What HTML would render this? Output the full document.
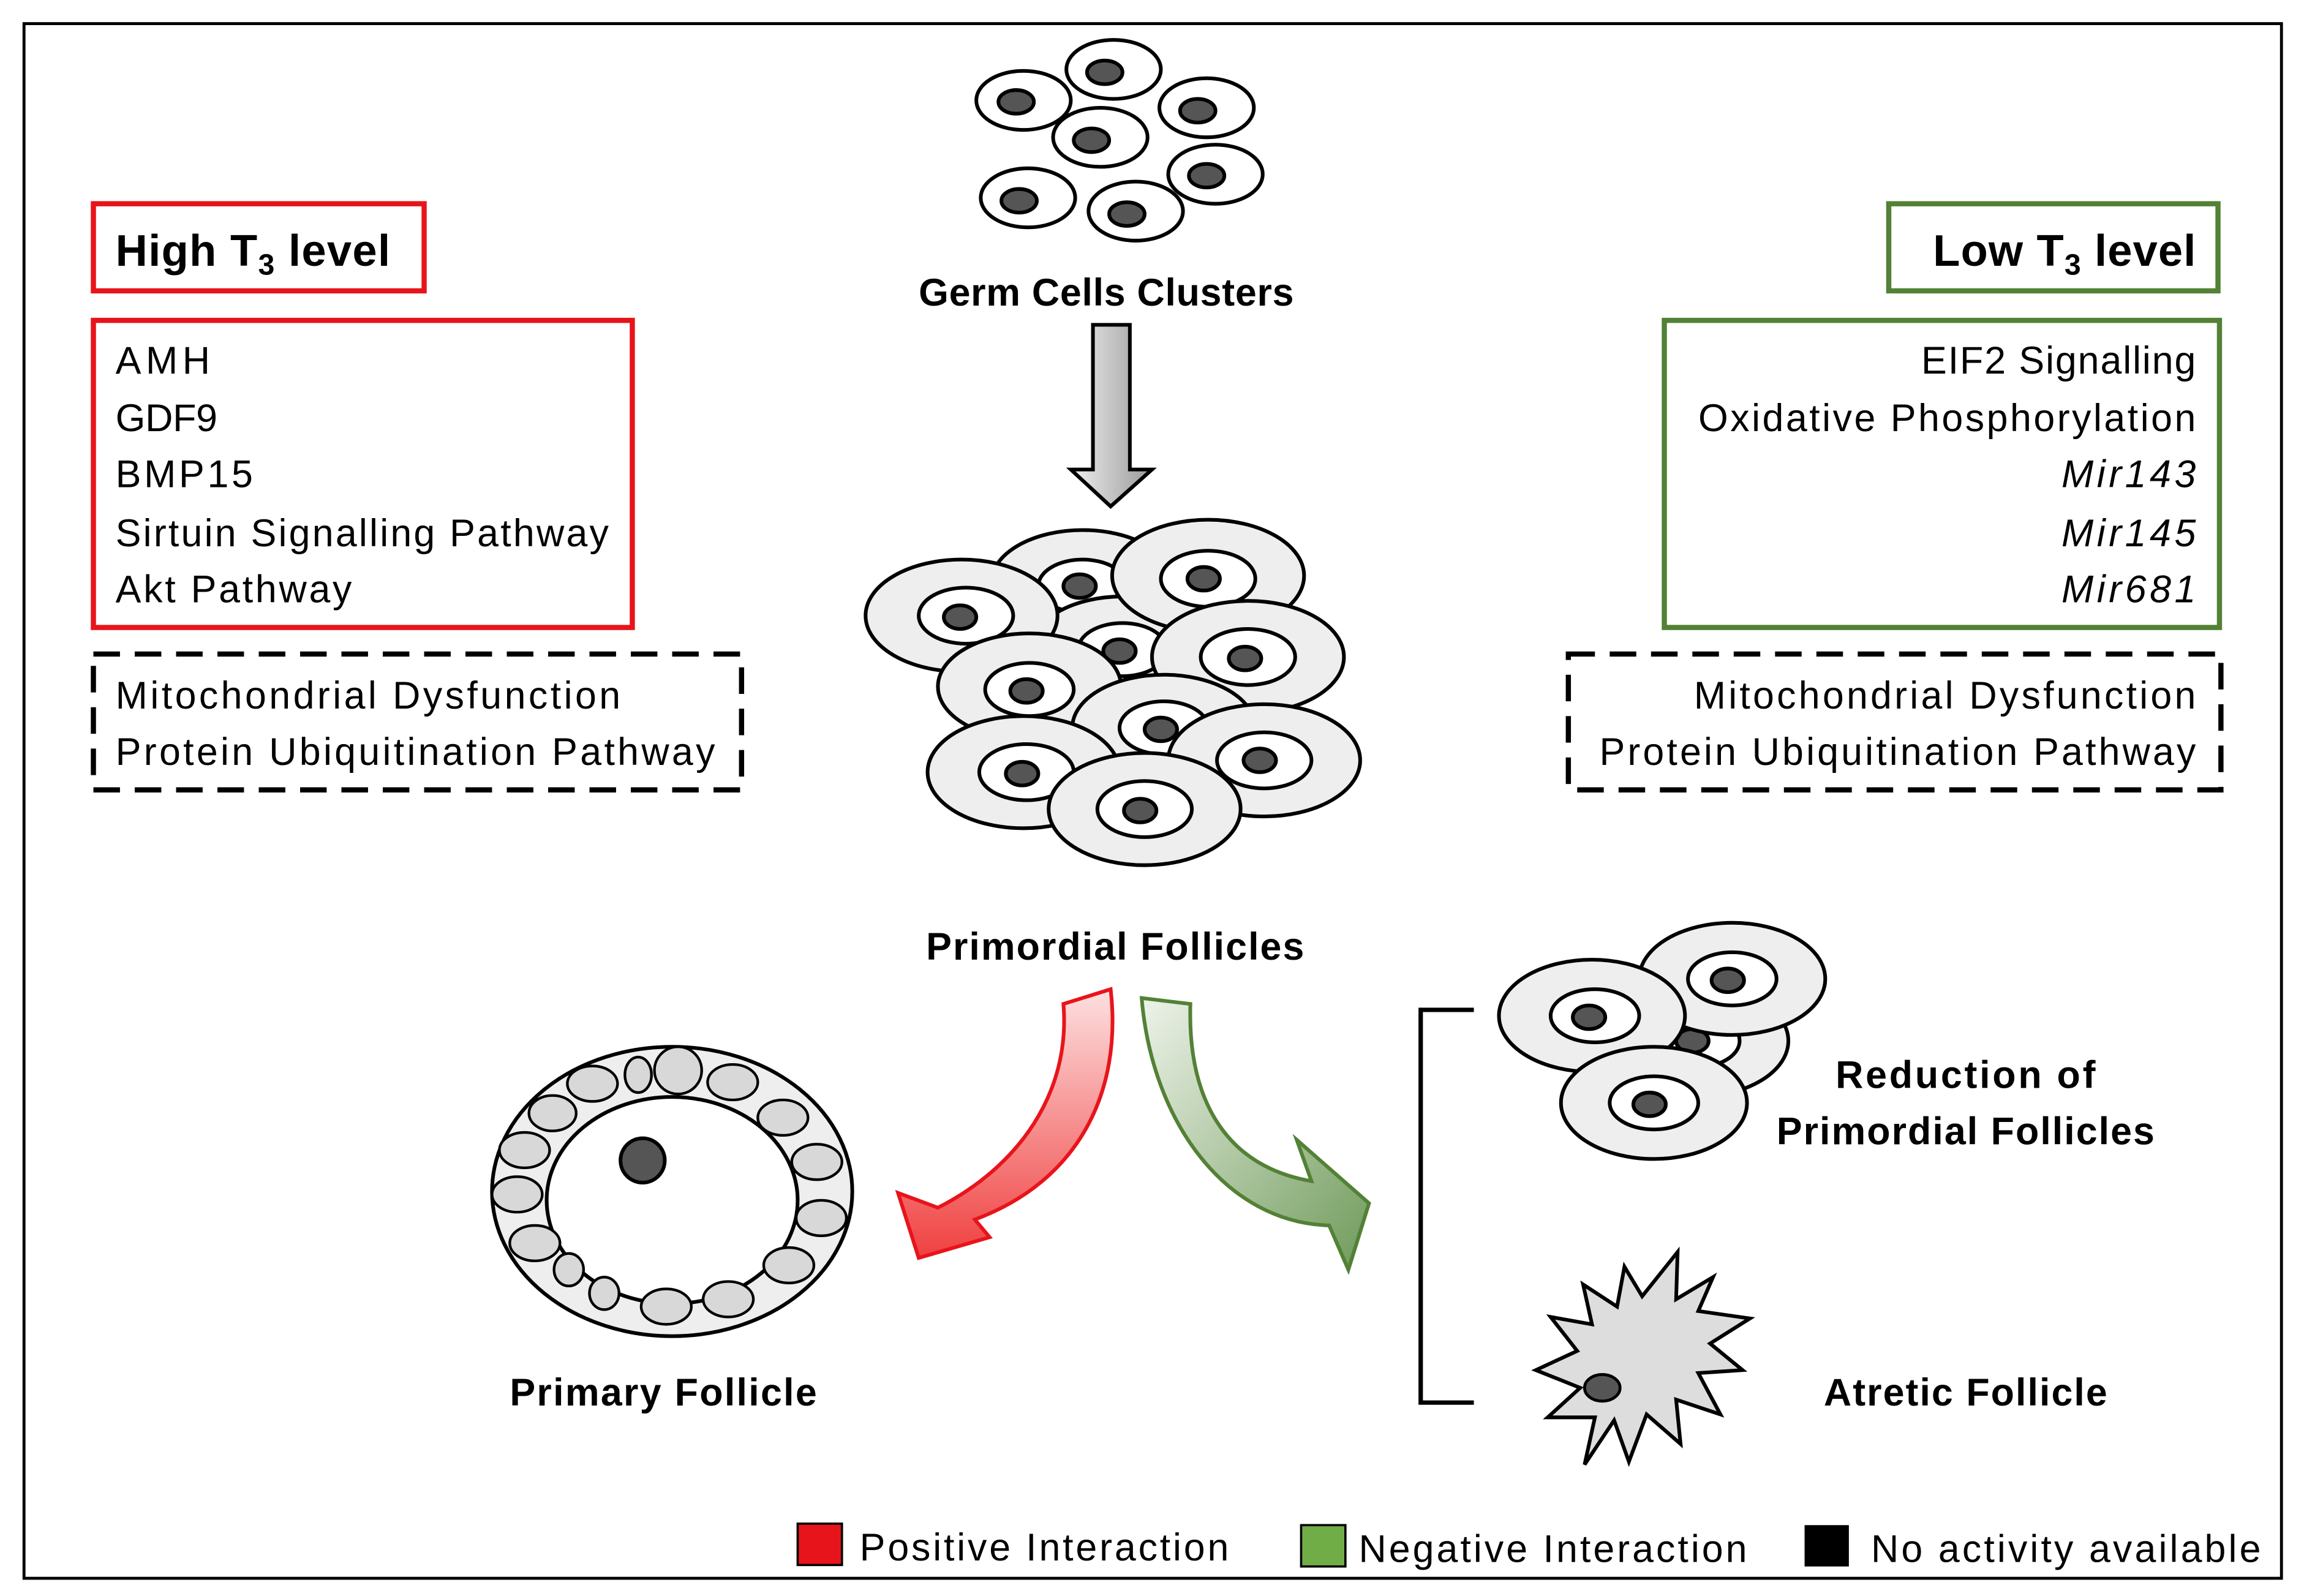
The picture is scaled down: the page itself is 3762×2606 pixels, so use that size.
<!DOCTYPE html>
<html><head><meta charset="utf-8"><style>html,body{margin:0;padding:0;background:#fff}svg{display:block}text{font-family:"Liberation Sans",sans-serif;fill:#000}</style></head>
<body>
<svg width="3762" height="2606" viewBox="0 0 1560 1081" xmlns="http://www.w3.org/2000/svg">
<defs>
<linearGradient id="rg" x1="0" y1="0" x2="0" y2="1"><stop offset="0" stop-color="#fde0e0"/><stop offset="1" stop-color="#f04040"/></linearGradient>
<linearGradient id="gg" x1="0" y1="0" x2="1" y2="1"><stop offset="0" stop-color="#eef3ea"/><stop offset="1" stop-color="#6f9a5a"/></linearGradient>
<linearGradient id="ag" x1="0" y1="0" x2="1" y2="0"><stop offset="0" stop-color="#f0f0f0"/><stop offset="1" stop-color="#999"/></linearGradient>
</defs>
<rect x="16" y="16" width="1529" height="1053" fill="#fff" stroke="#000" stroke-width="2"/>

<rect x="63" y="138" width="224" height="59" fill="none" stroke="#e8141b" stroke-width="3.5"/>
<text x="78" y="180" font-size="30" font-weight="bold" textLength="186">High T<tspan font-size="20" dy="6">3</tspan><tspan dy="-6"> level</tspan></text>
<rect x="63" y="217" width="365" height="208" fill="none" stroke="#e8141b" stroke-width="3.5"/>
<g font-size="26">
<text x="78" y="253" textLength="64">AMH</text>
<text x="78" y="292" textLength="69">GDF9</text>
<text x="78" y="330" textLength="93">BMP15</text>
<text x="78" y="370" textLength="334">Sirtuin Signalling Pathway</text>
<text x="78" y="408" textLength="160">Akt Pathway</text>
</g>
<rect x="63" y="443" width="439" height="92" fill="none" stroke="#000" stroke-width="3.5" stroke-dasharray="18,10"/>
<g font-size="26">
<text x="78" y="480" textLength="342">Mitochondrial Dysfunction</text>
<text x="78" y="518" textLength="406">Protein Ubiquitination Pathway</text>
</g>

<rect x="1279" y="138" width="223" height="59" fill="none" stroke="#538135" stroke-width="3.5"/>
<text x="1309" y="180" font-size="30" font-weight="bold" textLength="178">Low T<tspan font-size="20" dy="6">3</tspan><tspan dy="-6"> level</tspan></text>
<rect x="1127" y="217" width="376" height="208" fill="none" stroke="#538135" stroke-width="3.5"/>
<g font-size="26">
<text x="1301" y="253" textLength="186">EIF2 Signalling</text>
<text x="1150" y="292" textLength="337">Oxidative Phosphorylation</text>
<text x="1396" y="330" textLength="91" font-style="italic">Mir143</text>
<text x="1396" y="370" textLength="91" font-style="italic">Mir145</text>
<text x="1396" y="408" textLength="91" font-style="italic">Mir681</text>
</g>
<rect x="1062" y="443" width="442" height="92" fill="none" stroke="#000" stroke-width="3.5" stroke-dasharray="18,10"/>
<g font-size="26">
<text x="1147" y="480" textLength="340">Mitochondrial Dysfunction</text>
<text x="1083" y="518" textLength="404">Protein Ubiquitination Pathway</text>
</g>

<g stroke="#000" stroke-width="2.5">
<g fill="#fff">
<ellipse cx="754" cy="47" rx="32" ry="20"/><ellipse cx="693" cy="68" rx="32" ry="20"/><ellipse cx="817" cy="73" rx="32" ry="20"/>
<ellipse cx="745" cy="93" rx="32" ry="20"/><ellipse cx="823" cy="118" rx="32" ry="20"/><ellipse cx="696" cy="134" rx="32" ry="20"/><ellipse cx="769" cy="143" rx="32" ry="20"/>
</g>
<g fill="#555">
<ellipse cx="748" cy="49" rx="12" ry="8"/><ellipse cx="688" cy="69" rx="12" ry="8"/><ellipse cx="811" cy="75" rx="12" ry="8"/>
<ellipse cx="739" cy="95" rx="12" ry="8"/><ellipse cx="817" cy="119" rx="12" ry="8"/><ellipse cx="690" cy="136" rx="12" ry="8"/><ellipse cx="763" cy="145" rx="12" ry="8"/>
</g>
</g>
<text x="749" y="207" font-size="26" font-weight="bold" text-anchor="middle" textLength="254">Germ Cells Clusters</text>
<path d="M740 220 H765 V318 H780 L752 343 L725 318 H740 Z" fill="url(#ag)" stroke="#000" stroke-width="2.5"/>

<g stroke="#000" stroke-width="2.5">
<g><ellipse cx="733" cy="395" rx="62" ry="36" fill="#eee"/><ellipse cx="733" cy="397" rx="30" ry="18" fill="#fff"/><ellipse cx="731" cy="397" rx="11" ry="8" fill="#555"/></g>
<g><ellipse cx="760" cy="440" rx="62" ry="36" fill="#eee"/><ellipse cx="760" cy="440" rx="30" ry="18" fill="#fff"/><ellipse cx="758" cy="441" rx="11" ry="8" fill="#555"/></g>
<g><ellipse cx="818" cy="390" rx="65" ry="38" fill="#eee"/><ellipse cx="818" cy="392" rx="32" ry="19" fill="#fff"/><ellipse cx="815" cy="392" rx="11" ry="8" fill="#555"/></g>
<g><ellipse cx="651" cy="417" rx="65" ry="38" fill="#eee"/><ellipse cx="654" cy="417" rx="32" ry="19" fill="#fff"/><ellipse cx="650" cy="418" rx="11" ry="8" fill="#555"/></g>
<g><ellipse cx="697" cy="465" rx="62" ry="36" fill="#eee"/><ellipse cx="697" cy="467" rx="30" ry="18" fill="#fff"/><ellipse cx="695" cy="468" rx="11" ry="8" fill="#555"/></g>
<g><ellipse cx="845" cy="445" rx="65" ry="38" fill="#eee"/><ellipse cx="845" cy="445" rx="32" ry="19" fill="#fff"/><ellipse cx="843" cy="446" rx="11" ry="8" fill="#555"/></g>
<g><ellipse cx="788" cy="493" rx="62" ry="36" fill="#eee"/><ellipse cx="788" cy="493" rx="30" ry="18" fill="#fff"/><ellipse cx="786" cy="494" rx="11" ry="8" fill="#555"/></g>
<g><ellipse cx="856" cy="515" rx="65" ry="38" fill="#eee"/><ellipse cx="856" cy="515" rx="32" ry="19" fill="#fff"/><ellipse cx="853" cy="515" rx="11" ry="8" fill="#555"/></g>
<g><ellipse cx="693" cy="523" rx="65" ry="38" fill="#eee"/><ellipse cx="695" cy="523" rx="32" ry="19" fill="#fff"/><ellipse cx="692" cy="524" rx="11" ry="8" fill="#555"/></g>
<g><ellipse cx="775" cy="548" rx="65" ry="38" fill="#eee"/><ellipse cx="775" cy="548" rx="32" ry="19" fill="#fff"/><ellipse cx="772" cy="549" rx="11" ry="8" fill="#555"/></g>
</g>
<text x="755" y="650" font-size="26" font-weight="bold" text-anchor="middle" textLength="256">Primordial Follicles</text>

<g stroke="#000" stroke-width="2.5">
<ellipse cx="455" cy="807" rx="122" ry="98" fill="#eee"/>
<ellipse cx="455" cy="813" rx="85" ry="70" fill="#fff"/>
<g fill="#d8d8d8" stroke-width="1.8">
<ellipse cx="459" cy="725" rx="16" ry="16"/><ellipse cx="432" cy="728" rx="9" ry="12"/><ellipse cx="401" cy="734" rx="17" ry="12"/>
<ellipse cx="496" cy="733" rx="17" ry="12"/><ellipse cx="530" cy="757" rx="17" ry="12"/><ellipse cx="374" cy="754" rx="16" ry="12"/>
<ellipse cx="355" cy="779" rx="17" ry="12"/><ellipse cx="553" cy="787" rx="17" ry="12"/><ellipse cx="350" cy="809" rx="17" ry="12"/>
<ellipse cx="556" cy="825" rx="17" ry="12"/><ellipse cx="362" cy="842" rx="17" ry="12"/><ellipse cx="534" cy="857" rx="17" ry="12"/>
<ellipse cx="385" cy="860" rx="10" ry="11"/><ellipse cx="409" cy="876" rx="10" ry="11"/><ellipse cx="451" cy="885" rx="17" ry="12"/><ellipse cx="493" cy="880" rx="17" ry="12"/>
</g>
<circle cx="435" cy="786" r="15" fill="#555"/>
</g>
<text x="449" y="952" font-size="26" font-weight="bold" text-anchor="middle" textLength="208">Primary Follicle</text>

<path d="M720 680 L752 670 C760 740 730 800 660 826 L670 838 L622 852 L608 808 L635 818 C690 790 725 740 720 680 Z" fill="url(#rg)" stroke="#e8141b" stroke-width="2.5"/>
<path d="M773 676 L806 680 C804 745 830 790 888 800 L878 772 L927 815 L913 860 L900 830 C830 828 780 760 773 676 Z" fill="url(#gg)" stroke="#538135" stroke-width="2.5"/>

<path d="M998 684 H962 V950 H998" fill="none" stroke="#000" stroke-width="3"/>

<g stroke="#000" stroke-width="2.5">
<g><ellipse cx="1148" cy="705" rx="63" ry="38" fill="#eee"/><ellipse cx="1148" cy="705" rx="30" ry="18" fill="#fff"/><ellipse cx="1146" cy="705" rx="11" ry="8" fill="#555"/></g>
<g><ellipse cx="1173" cy="663" rx="63" ry="38" fill="#eee"/><ellipse cx="1173" cy="663" rx="30" ry="18" fill="#fff"/><ellipse cx="1170" cy="664" rx="11" ry="8" fill="#555"/></g>
<g><ellipse cx="1078" cy="688" rx="63" ry="38" fill="#eee"/><ellipse cx="1080" cy="688" rx="30" ry="18" fill="#fff"/><ellipse cx="1076" cy="689" rx="11" ry="8" fill="#555"/></g>
<g><ellipse cx="1120" cy="747" rx="63" ry="38" fill="#eee"/><ellipse cx="1120" cy="747" rx="30" ry="18" fill="#fff"/><ellipse cx="1117" cy="748" rx="11" ry="8" fill="#555"/></g>
</g>
<g font-size="26" font-weight="bold" text-anchor="middle">
<text x="1331" y="737" textLength="176">Reduction of</text>
<text x="1331" y="775" textLength="256">Primordial Follicles</text>
<text x="1331" y="952" textLength="192">Atretic Follicle</text>
</g>

<path d="M1073 992 L1080 960 L1048 960 L1070 940 L1040 928 L1068 915 L1050 892 L1078 897 L1072 870 L1095 885 L1100 858 L1112 878 L1136 848 L1135 880 L1160 865 L1150 888 L1185 893 L1158 910 L1180 928 L1150 930 L1165 958 L1135 948 L1138 978 L1115 958 L1103 990 L1093 962 Z" fill="#ddd" stroke="#000" stroke-width="2.5"/>
<ellipse cx="1085" cy="940" rx="12" ry="9" fill="#555" stroke="#000" stroke-width="2"/>

<rect x="540" y="1032" width="30" height="28" fill="#e8141b" stroke="#000" stroke-width="1.5"/>
<text x="582" y="1057" font-size="26" textLength="250">Positive Interaction</text>
<rect x="881" y="1033" width="30" height="28" fill="#70ad47" stroke="#000" stroke-width="1.5"/>
<text x="920" y="1058" font-size="26" textLength="263">Negative Interaction</text>
<rect x="1222" y="1033" width="30" height="28" fill="#000"/>
<text x="1267" y="1058" font-size="26" textLength="264">No activity available</text>
</svg>
</body></html>
